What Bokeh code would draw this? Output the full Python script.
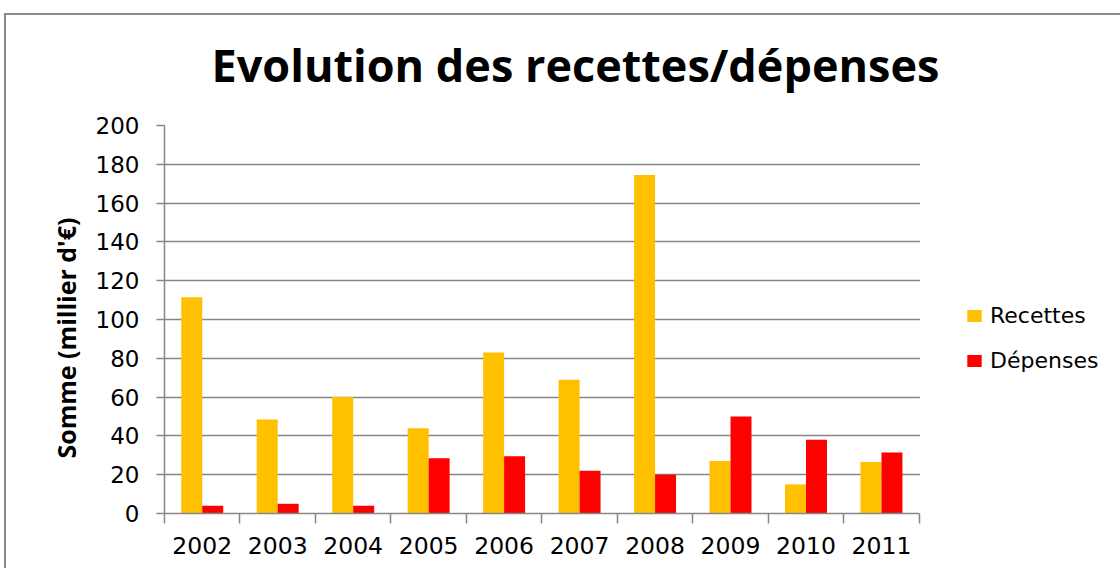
import math
from bokeh.plotting import figure
from bokeh.models import (ColumnDataSource, Range1d, FixedTicker, Legend, LegendItem,
                          Title, InlineStyleSheet, BoxAnnotation)
from bokeh.transform import dodge
from bokeh.embed import file_html
from bokeh.resources import INLINE

years = ["2002", "2003", "2004", "2005", "2006", "2007", "2008", "2009", "2010", "2011"]
recettes = [111.5, 48.5, 60, 44, 83, 69, 174.5, 27, 15, 26.5]
depenses = [4, 5, 4, 28.5, 29.5, 22, 20, 50, 38, 31.5]
y_ticks = [0, 20, 40, 60, 80, 100, 120, 140, 160, 180, 200]

GOLD = "#FFC000"
RED = "#FF0000"
GRAY = "#868686"

W, H = 1120, 568
LEFT, RIGHT, TOP, BOTTOM = 164, 10, 123, 55
CAT_PX = 75.47  # pixel width of one year slot in the reference

n = len(years)
x_pos = list(range(n))
x_lo, x_hi = -0.5, n - 0.5
x_end = x_lo + (W - LEFT - RIGHT) / CAT_PX  # frame extends to the right to host the legend

src = ColumnDataSource(dict(x=x_pos, year=years, recettes=recettes, depenses=depenses))

p = figure(width=W, height=H, output_backend="svg", toolbar_location=None,
           x_range=Range1d(x_lo, x_end), y_range=Range1d(0, 200),
           min_border_left=LEFT, min_border_right=RIGHT, min_border_top=TOP,
           min_border_bottom=BOTTOM)
p.outline_line_color = None
p.background_fill_color = "white"
p.border_fill_color = "white"

bw = 0.278
r1 = p.vbar(x=dodge("x", -bw / 2), top="recettes", width=bw, source=src,
            fill_color=GOLD, line_color=None)
r2 = p.vbar(x=dodge("x", bw / 2), top="depenses", width=bw, source=src,
            fill_color=RED, line_color=None)

# title
p.title.text = "Evolution des recettes/dépenses"
p.title.text_font = "Open Sans"
p.title.text_font_style = "bold"
p.title.text_font_size = "45px"
p.title.align = "left"
p.title.offset = 47
p.title.standoff = 62
p.title.text_color = "black"

# x axis
xa = p.xaxis[0]
xa.bounds = (x_lo, x_hi)
xa.ticker = FixedTicker(ticks=x_pos, minor_ticks=[i - 0.5 for i in range(n + 1)])
xa.major_label_overrides = {i: y for i, y in zip(x_pos, years)}
xa.major_tick_out = 0
xa.major_tick_in = 0
xa.minor_tick_out = 10
xa.minor_tick_in = 0
xa.minor_tick_line_color = GRAY
xa.minor_tick_line_width = 1.5
xa.axis_line_color = GRAY
xa.axis_line_width = 1.5
xa.major_label_standoff = 13
xa.major_label_text_font = "DejaVu Sans"
xa.major_label_text_font_size = "23.5px"
xa.major_label_text_color = "black"

# y axis
ya = p.yaxis[0]
ya.ticker = FixedTicker(ticks=y_ticks)
ya.major_tick_out = 8
ya.major_tick_in = 0
ya.minor_tick_line_color = None
ya.major_tick_line_color = GRAY
ya.major_tick_line_width = 1.5
ya.axis_line_color = GRAY
ya.axis_line_width = 1.5
ya.major_label_standoff = 17
ya.major_label_text_font = "DejaVu Sans"
ya.major_label_text_font_size = "23px"
ya.major_label_text_color = "black"

p.xgrid.visible = False
p.ygrid.ticker = FixedTicker(ticks=y_ticks)
p.ygrid.grid_line_color = GRAY
p.ygrid.grid_line_width = 1.5

# blank out the grid to the right of the last year (legend area)
p.add_layout(BoxAnnotation(left=x_hi + 0.01, fill_color="white", fill_alpha=1,
                           line_color=None, level="underlay"))

# y axis label (as a side title so it can be shifted along the axis)
p.add_layout(Title(text="Somme (millier d'€)", align="left", offset=55, standoff=20,
                   text_font="Open Sans", text_font_style="bold",
                   text_font_size="25px", text_color="black"), "left")

legend = Legend(items=[LegendItem(label="Recettes", renderers=[r1]),
                       LegendItem(label="Dépenses", renderers=[r2])],
                location=(801, 140), glyph_width=18, glyph_height=15,
                label_height=20, spacing=20, padding=0, margin=0,
                border_line_color=None, background_fill_alpha=0,
                label_standoff=7, label_text_font="DejaVu Sans",
                label_text_font_size="22px", label_text_color="black")
p.add_layout(legend)

# outer chart frame (top and left edges visible in the reference)
p.stylesheets = [InlineStyleSheet(css="""
:host { position: relative; }
:host::after { content: ""; position: absolute; left: 4px; top: 13px; right: 0; bottom: 0;
  border-top: 2.5px solid #8A8A8A; border-left: 2.5px solid #8A8A8A; pointer-events: none; }
""")]

open("out.html", "w").write(file_html(p, INLINE))
